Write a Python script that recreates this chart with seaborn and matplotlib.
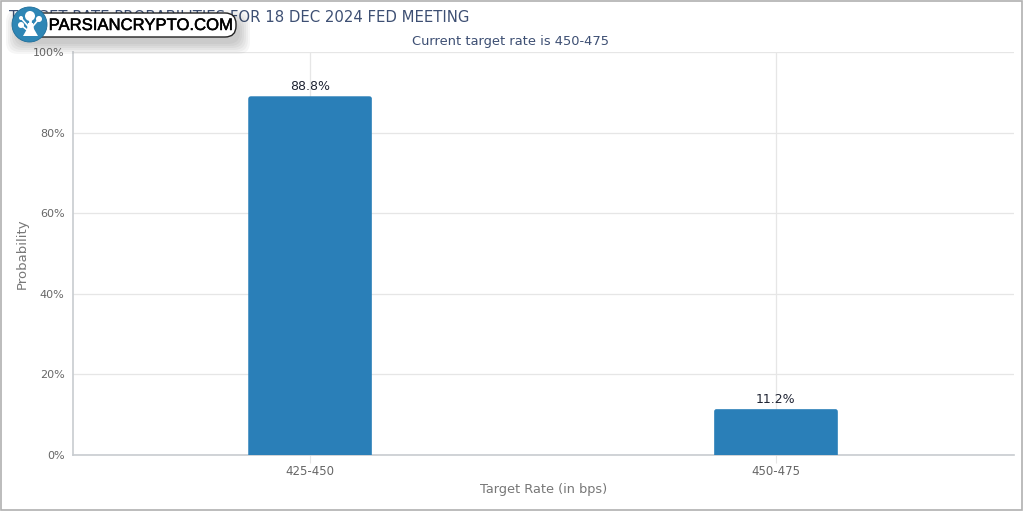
#!/usr/bin/env python3
"""Target rate probabilities bar chart, seaborn version."""

import matplotlib
matplotlib.use('Agg')
import matplotlib.patheffects as pe
import matplotlib.pyplot as plt
from matplotlib.patches import Circle, FancyBboxPatch, Polygon, Rectangle
import pandas as pd
import seaborn as sns

rates = ['425-450', '450-475']
probabilities = [88.8, 11.2]
y_ticks = [0, 20, 40, 60, 80, 100]
y_tick_labels = ['0%', '20%', '40%', '60%', '80%', '100%']

TITLE = 'TARGET RATE PROBABILITIES FOR 18 DEC 2024 FED MEETING'
SUBTITLE = 'Current target rate is 450-475'
LOGO_TEXT = 'PARSIANCRYPTO.COM'

W, H = 1024, 512
BAR_COLOR = '#2a7fb8'
NAVY = '#3d4f73'
GREY = '#666666'
LABEL_GREY = '#777777'
GRID = '#e6e6e6'
AXIS = '#c8ccd0'

sns.set_theme(style='white')
plt.rcParams['font.family'] = ['DejaVu Sans']

fig = plt.figure(figsize=(W / 100, H / 100), dpi=100, facecolor='white')
ax = fig.add_axes([73 / W, 1 - 455 / H, 941 / W, 403 / H])

df = pd.DataFrame({'rate': rates, 'probability': probabilities})
sns.barplot(data=df, x='rate', y='probability', color=BAR_COLOR, saturation=1,
            width=0.262, edgecolor=BAR_COLOR, linewidth=1.2, ax=ax, zorder=3)

ax.set_ylim(0, 100)
ax.set_xlim(-0.509, 1.511)
ax.set_yticks(y_ticks)
ax.set_yticklabels(y_tick_labels)
ax.tick_params(axis='y', length=0, labelsize=8, labelcolor=GREY, pad=6)
ax.tick_params(axis='x', bottom=True, length=6, width=0.8, color=GRID,
               labelsize=8.5, labelcolor=GREY, pad=1)
ax.grid(True, axis='both', color=GRID, linewidth=0.9, zorder=0)
ax.set_axisbelow(True)
ax.set_xlabel('Target Rate (in bps)', fontsize=9.3, color=LABEL_GREY, labelpad=4)
ax.set_ylabel('Probability', fontsize=9.5, color=LABEL_GREY, labelpad=3)

for side in ['top', 'right']:
    ax.spines[side].set_visible(False)
for side in ['left', 'bottom']:
    ax.spines[side].set_color(AXIS)
    ax.spines[side].set_linewidth(1.2)

# rounded top corners: clip the seaborn bars
x_scale = 2.02 / 941
y_scale = 100 / 403
for bar in ax.patches:
    clip = FancyBboxPatch((bar.get_x() - x_scale, -3), bar.get_width() + 2 * x_scale,
                          bar.get_height() + 3 + y_scale,
                          boxstyle=f'round,pad=0,rounding_size={3 * x_scale}',
                          mutation_aspect=y_scale / x_scale, transform=ax.transData)
    bar.set_clip_path(clip)

for i, val in enumerate(probabilities):
    ax.annotate(f'{val}%', (i, val), xytext=(0, 3), textcoords='offset points',
                ha='center', va='bottom', fontsize=9, color='#1f2433', zorder=5)

# title, subtitle
fig.text(9 / W, 1 - 17 / H, TITLE, fontsize=10.7, color=NAVY, ha='left', va='center')
fig.text(511 / W, 1 - 41 / H, SUBTITLE, fontsize=9.4, color=NAVY, ha='center', va='center')

# overlay in pixel coordinates for frame and watermark
over = fig.add_axes([0, 0, 1, 1], facecolor='none', zorder=10)
over.set_xlim(0, W)
over.set_ylim(H, 0)
over.axis('off')
over.add_patch(Rectangle((0.5, 0.5), W - 2.5, H - 3, fill=False, ec='#b0b0b0', lw=1.2))

# soft shadow below the logo
for grow in range(12, 0, -2):
    over.add_patch(FancyBboxPatch((18 - grow, 22 - grow), 220 + 2 * grow, 20 + 2 * grow,
                                  boxstyle='round,pad=0,rounding_size=12', fc='black',
                                  ec='none', alpha=0.035))
over.add_patch(FancyBboxPatch((28, 13), 208, 24, boxstyle='round,pad=0,rounding_size=11',
                              fc='white', ec='#222222', lw=1))
over.text(140.5, 25.5, LOGO_TEXT, fontsize=12, color='black', ha='center', va='center',
          family='Liberation Sans',
          path_effects=[pe.withStroke(linewidth=0.35, foreground='black')])
over.add_patch(Circle((29.5, 24.5), 17.5, fc='#2e86b5', ec='#1f6d99', lw=0.6))
# small tree inside logo circle
over.add_patch(Polygon([(23, 36), (38, 36), (34, 29), (33, 23), (28, 23), (27, 29)],
                       fc='white', ec='none'))
for cx, cy, r in [(30, 16, 5), (39, 19, 3), (21, 18, 2), (21, 25, 3)]:
    over.add_patch(Circle((cx, cy), r, fc='white', ec='none'))
over.plot([30, 30], [16, 26], color='white', lw=2)
over.plot([39, 33], [19, 26], color='white', lw=1.2)
over.plot([21, 28], [18, 26], color='white', lw=1.2)
over.plot([21, 27], [25, 30], color='white', lw=1.2)

fig.savefig('out.png', dpi=100, facecolor='white')
